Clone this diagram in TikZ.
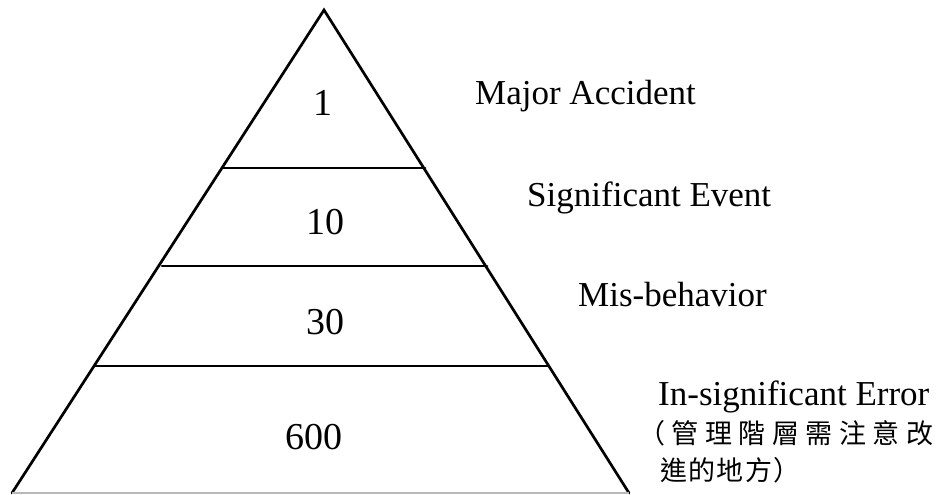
\documentclass[tikz,border=0pt]{standalone}
\usepackage{fontspec}
\setmainfont{Liberation Serif}
\newfontfamily\cjkwide[LetterSpace=24]{Noto Sans CJK TC}
\newfontfamily\cjk[LetterSpace=5]{Noto Sans CJK TC}
\begin{document}
\begin{tikzpicture}[x=1pt,y=-1pt,
  edge/.style={line width=2.7pt,line cap=round,line join=miter},
  level/.style={font=\fontsize{38}{40}\selectfont,anchor=center,inner sep=0pt},
  tag/.style={font=\fontsize{35}{38}\selectfont,anchor=base west,inner sep=0pt},
  note/.style={font=\fontsize{27}{30}\selectfont,anchor=base west,inner sep=0pt}]
\useasboundingbox (0,0) rectangle (943,495);
% corners of the pyramid
\coordinate (top) at (324,10);
\coordinate (bl) at (12,493);
\coordinate (br) at (629,493);
% ends of the dividing lines
\coordinate (l1) at (223,168); \coordinate (r1) at (425,168);
\coordinate (l2) at (162,266); \coordinate (r2) at (487,266);
\coordinate (l3) at (95,366);  \coordinate (r3) at (548,366);
% outline
\draw[edge] (bl) -- (top) -- (br);
\draw[gray!55,line width=1.6pt] (bl) -- (br);
\draw[edge] (l1) -- (r1);
\draw[edge] (l2) -- (r2);
\draw[edge] (l3) -- (r3);
% counts in each band
\node[level] (n1) at (323,103) {1};
\node[level] (n2) at (325,222) {10};
\node[level] (n3) at (325,322) {30};
\node[level] (n4) at (314,437) {600};
% band names
\node[tag] (t1) at (475,105) {Major Accident};
\node[tag] (t2) at (527,206) {Significant Event};
\node[tag] (t3) at (578,306) {Mis-behavior};
\node[tag] (t4) at (658,405) {In-significant Error};
\node[note] (c1) at (638,443) {\cjkwide （管理階層需注意改};
\node[note] (c2) at (660,480) {\cjk 進的地方）};
\end{tikzpicture}
\end{document}
